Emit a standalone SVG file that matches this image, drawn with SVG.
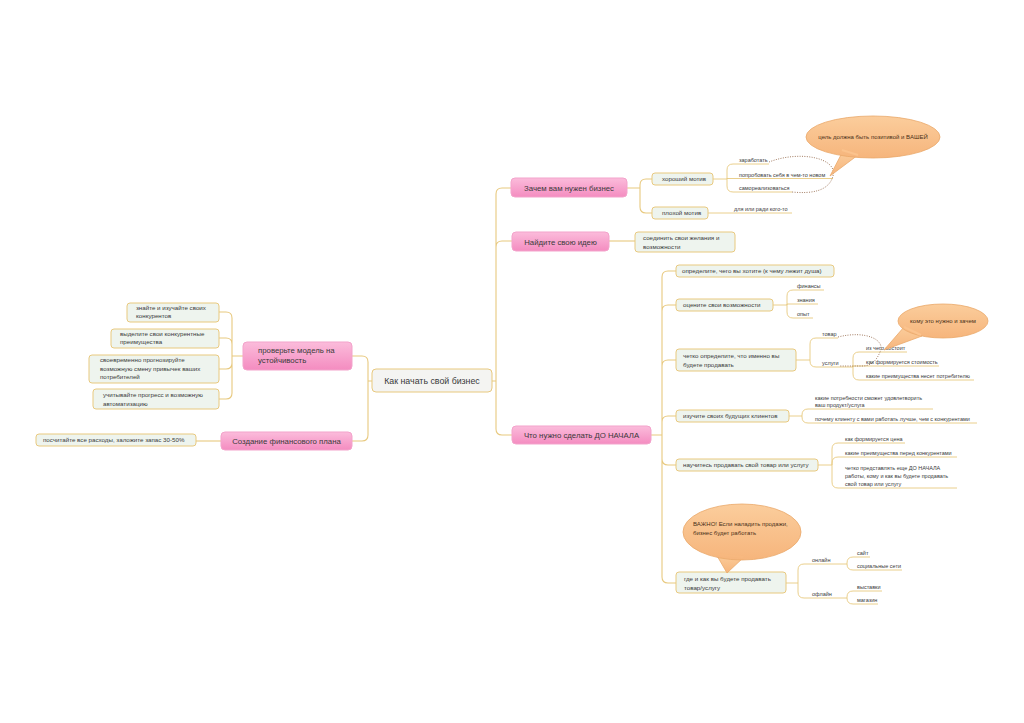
<svg xmlns="http://www.w3.org/2000/svg" width="1024" height="723" viewBox="0 0 1024 723">
<defs>
<linearGradient id="pink" x1="0" y1="0" x2="0" y2="1">
<stop offset="0" stop-color="#fbbcdb"/><stop offset="1" stop-color="#f48cc0"/>
</linearGradient>
<linearGradient id="call" x1="0" y1="0" x2="0" y2="1">
<stop offset="0" stop-color="#fbcd9c"/><stop offset="1" stop-color="#f6b57c"/>
</linearGradient>
<style>
text{font-family:"Liberation Sans","DejaVu Sans",sans-serif;fill:#3a3a3a}
.c{fill:none;stroke:#e8c97f;stroke-width:1.1}
.u{fill:none;stroke:#e8c97f;stroke-width:0.9}
.pk{fill:url(#pink);stroke:#f3a3cb;stroke-width:1}
.bx{fill:#eef4ee;stroke:#e8c97f;stroke-width:1}
.root{fill:#f4f4f2;stroke:#e8c97f;stroke-width:1}
.cl{fill:url(#call);stroke:#eaa86a;stroke-width:0.8}
.dot{fill:none;stroke:#8a5a3a;stroke-width:0.8;stroke-dasharray:1 1.4}
.t1{font-size:8.8px}
.t2{font-size:7.8px}
.t3{font-size:6.2px}
.t4{font-size:5.5px}
.tc{font-size:6px;fill:#4a3018}
.m{text-anchor:middle}
</style>
</defs>
<rect width="1024" height="723" fill="#ffffff"/>

<g id="connectors">
<path class="c" d="M372,381 H368 M368,381 V362 Q368,356 362,356 H352 M368,381 V435 Q368,441 362,441 H352"/>
<path class="c" d="M492,381 H496 M496,381 V194 Q496,188 502,188 H511 M496,381 V247 Q496,241 502,241 H512 M496,381 V429 Q496,435 502,435 H512"/>
<path class="c" d="M243,356 H232 M232,356 V318 Q232,312 226,312 H219 M232,356 V344 Q232,338 226,338 H219 M232,356 V363 Q232,369 226,369 H219 M232,356 V393 Q232,399 226,399 H219"/>
<path class="c" d="M221,441 H196"/>
<path class="c" d="M627,188 H640 M640,188 V185 Q640,179 646,179 H652 M640,188 V207 Q640,213 646,213 H652"/>
<path class="u" d="M713,179 H727 M727,179 V170 Q727,164 733,164 H769 M727,179 V178.5 H833 M727,179 V186 Q727,192 733,192 H792"/>
<path class="u" d="M708,213 H792"/>
<path class="c" d="M609,241 H635"/>
<path class="c" d="M651,435 H662 M662,435 V277 Q662,271 668,271 H676 M662,435 V311 Q662,305 668,305 H676 M662,435 V366 Q662,360 668,360 H676 M662,435 V422 Q662,416 668,416 H676 M662,435 V459 Q662,465 668,465 H676 M662,435 V577 Q662,583 668,583 H676"/>
<path class="u" d="M773,305 H787 M787,305 V296 Q787,290 793,290 H824 M787,305 V304 H818 M787,305 V312 Q787,318 793,318 H813"/>
<path class="u" d="M796,360 H810 M810,360 V344 Q810,338 816,338 H838 M810,360 V361 Q810,367 816,367 H853"/>
<path class="u" d="M853,367 V358 Q853,352 859,352 H907 M853,367 V366 H939 M853,367 V374 Q853,380 859,380 H974"/>
<path class="u" d="M789,416 H802 M802,416 V415 Q802,409 808,409 H933 M802,416 V417 Q802,423 808,423 H977"/>
<path class="u" d="M818,465 H832 M832,465 V449 Q832,443 838,443 H905 M832,465 V463 Q832,457 838,457 H957 M832,465 V482 Q832,488 838,488 H957"/>
<path class="u" d="M786,583 H798 M798,583 V570 Q798,564 804,564 H847 M798,583 V592 Q798,598 804,598 H847"/>
<path class="u" d="M847,564 V563 Q847,557 853,557 H870 M847,564 V564 Q847,570 853,570 H902 M847,598 V597 Q847,591 853,591 H882 M847,598 V598 Q847,604 853,604 H878"/>
<path class="dot" d="M769,162 C800,150 838,158 833,176 C829,191 812,194 792,192"/>
<path class="dot" d="M838,337 C866,330 886,340 880,352 C876,362 870,366 862,366 L840,366"/>
</g>

<g id="root"><rect class="root" x="372" y="369" width="120" height="23" rx="4"/><text class="t1 m" x="432" y="384">Как начать свой бизнес</text></g>

<g id="n-zachem"><rect class="pk" x="511" y="178" width="116" height="19" rx="4"/><text class="t2 m" x="569" y="190.5">Зачем вам нужен бизнес</text></g>
<g id="n-idea"><rect class="pk" x="512" y="232" width="97" height="19" rx="4"/><text class="t2 m" x="560.5" y="244.5">Найдите свою идею</text></g>
<g id="n-do"><rect class="pk" x="512" y="426" width="139" height="18" rx="4"/><text class="t2 m" x="581.5" y="438">Что нужно сделать ДО НАЧАЛА</text></g>
<g id="n-model"><rect class="pk" x="243" y="342" width="109" height="28" rx="4"/><text class="t2" x="258" y="353">проверьте модель на</text><text class="t2" x="258" y="363">устойчивость</text></g>
<g id="n-fin"><rect class="pk" x="221" y="432" width="131" height="18" rx="4"/><text class="t2 m" x="286.5" y="444">Создание финансового плана</text></g>

<g id="l-know"><rect class="bx" x="127" y="303" width="92" height="19" rx="3"/><text class="t3" x="136" y="309.5">знайте и изучайте своих</text><text class="t3" x="136" y="318">конкурентов</text></g>
<g id="l-adv"><rect class="bx" x="111" y="329" width="108" height="19" rx="3"/><text class="t3" x="120" y="335.5">выделите свои конкурентные</text><text class="t3" x="120" y="344">преимущества</text></g>
<g id="l-forecast"><rect class="bx" x="89" y="355" width="130" height="28" rx="3"/><text class="t3" x="100" y="362">своевременно прогнозируйте</text><text class="t3" x="100" y="370.5">возможную смену привычек ваших</text><text class="t3" x="100" y="379">потребителей</text></g>
<g id="l-auto"><rect class="bx" x="93" y="389" width="126" height="20" rx="3"/><text class="t3" x="103" y="397">учитывайте прогресс и возможную</text><text class="t3" x="103" y="405.5">автоматизацию</text></g>
<g id="l-costs"><rect class="bx" x="36" y="434" width="160" height="12" rx="3"/><text class="t3" x="43" y="442.3">посчитайте все расходы, заложите запас 30-50%</text></g>

<g id="n-good"><rect class="bx" x="652" y="173" width="61" height="12" rx="3"/><text class="t3" x="662" y="181.3">хороший мотив</text></g>
<g id="n-bad"><rect class="bx" x="652" y="207" width="56" height="12" rx="3"/><text class="t3" x="662" y="215.3">плохой мотив</text></g>
<g id="t-earn"><text class="t4" x="739" y="162">заработать</text></g>
<g id="t-try"><text class="t4" x="739" y="176.5">попробовать себя в чем-то новом</text></g>
<g id="t-self"><text class="t4" x="739" y="190">самореализоваться</text></g>
<g id="t-for"><text class="t4" x="734" y="211">для или ради кого-то</text></g>
<g id="call-goal"><path class="cl" d="M843,151 L830,176 L858,155 Z"/><ellipse class="cl" cx="873" cy="137" rx="67" ry="21"/><path d="M842,150 L858,155" stroke="#fbc38d" stroke-width="2"/><text class="tc m" x="873" y="139">цель должна быть позитивой и ВАШЕЙ</text></g>

<g id="n-join"><rect class="bx" x="635" y="232" width="100" height="20" rx="3"/><text class="t3" x="643" y="240">соединить свои желания и</text><text class="t3" x="643" y="248.5">возможности</text></g>

<g id="n-want"><rect class="bx" x="676" y="265" width="158" height="12" rx="3"/><text class="t3" x="682" y="273.3">определите, чего вы хотите (к чему лежит душа)</text></g>
<g id="n-abil"><rect class="bx" x="676" y="299" width="97" height="12" rx="3"/><text class="t3" x="683" y="307.3">оцените свои возможности</text></g>
<g id="t-money"><text class="t4" x="797" y="288">финансы</text></g>
<g id="t-know"><text class="t4" x="797" y="302">знания</text></g>
<g id="t-exp"><text class="t4" x="797" y="316">опыт</text></g>
<g id="n-sell"><rect class="bx" x="676" y="349" width="120" height="22" rx="3"/><text class="t3" x="683" y="357.5">четко определите, что именно вы</text><text class="t3" x="683" y="366.5">будете продавать</text></g>
<g id="t-goods"><text class="t4" x="822" y="336">товар</text></g>
<g id="t-serv"><text class="t4" x="822" y="365">услуги</text></g>
<g id="t-consist"><text class="t4" x="866" y="350">из чего состоит</text></g>
<g id="t-cost"><text class="t4" x="866" y="364">как формируется стоимость</text></g>
<g id="t-benefit"><text class="t4" x="866" y="378">какие преимущества несет потребителю</text></g>
<g id="call-who"><path class="cl" d="M904,327 L884,350 L922,336 Z"/><ellipse class="cl" cx="943" cy="321" rx="45" ry="17"/><path d="M904,327 L921,335" stroke="#fbc38d" stroke-width="2"/><text class="tc m" x="943" y="323">кому это нужно и зачем</text></g>

<g id="n-clients"><rect class="bx" x="676" y="410" width="113" height="12" rx="3"/><text class="t3" x="683" y="418.3">изучите своих будущих клиентов</text></g>
<g id="t-needs"><text class="t4" x="815" y="400">какие потребности сможет удовлетворить</text><text class="t4" x="815" y="407">ваш продукт/услуга</text></g>
<g id="t-why"><text class="t4" x="815" y="421">почему клиенту с вами работать лучше, чем с конкурентами</text></g>

<g id="n-learn"><rect class="bx" x="676" y="459" width="142" height="12" rx="3"/><text class="t3" x="683" y="467.3">научитесь продавать свой товар или услугу</text></g>
<g id="t-price"><text class="t4" x="845" y="441">как формируется цена</text></g>
<g id="t-compet"><text class="t4" x="845" y="455">какие преимущества перед конкурентами</text></g>
<g id="t-before"><text class="t4" x="845" y="470">четко представлять еще ДО НАЧАЛА</text><text class="t4" x="845" y="478">работы, кому и как вы будете продавать</text><text class="t4" x="845" y="486">свой товар или услугу</text></g>

<g id="n-where"><rect class="bx" x="676" y="572" width="110" height="21" rx="3"/><text class="t3" x="684" y="580.5">где и как вы будете продавать</text><text class="t3" x="684" y="589.5">товар/услугу</text></g>
<g id="t-online"><text class="t4" x="812" y="562">онлайн</text></g>
<g id="t-offline"><text class="t4" x="812" y="596">офлайн</text></g>
<g id="t-site"><text class="t4" x="857" y="555">сайт</text></g>
<g id="t-social"><text class="t4" x="857" y="568">социальные сети</text></g>
<g id="t-expo"><text class="t4" x="857" y="589">выставки</text></g>
<g id="t-shop"><text class="t4" x="857" y="602">магазин</text></g>
<g id="call-important"><path class="cl" d="M716,554 L727,573 L744,557 Z"/><ellipse class="cl" cx="742" cy="532" rx="59" ry="28"/><path d="M717,554 L743,557" stroke="#f7b87f" stroke-width="2"/><text class="tc" x="693" y="526">ВАЖНО! Если наладить продажи,</text><text class="tc" x="693" y="534.5">бизнес будет работать</text></g>
</svg>
